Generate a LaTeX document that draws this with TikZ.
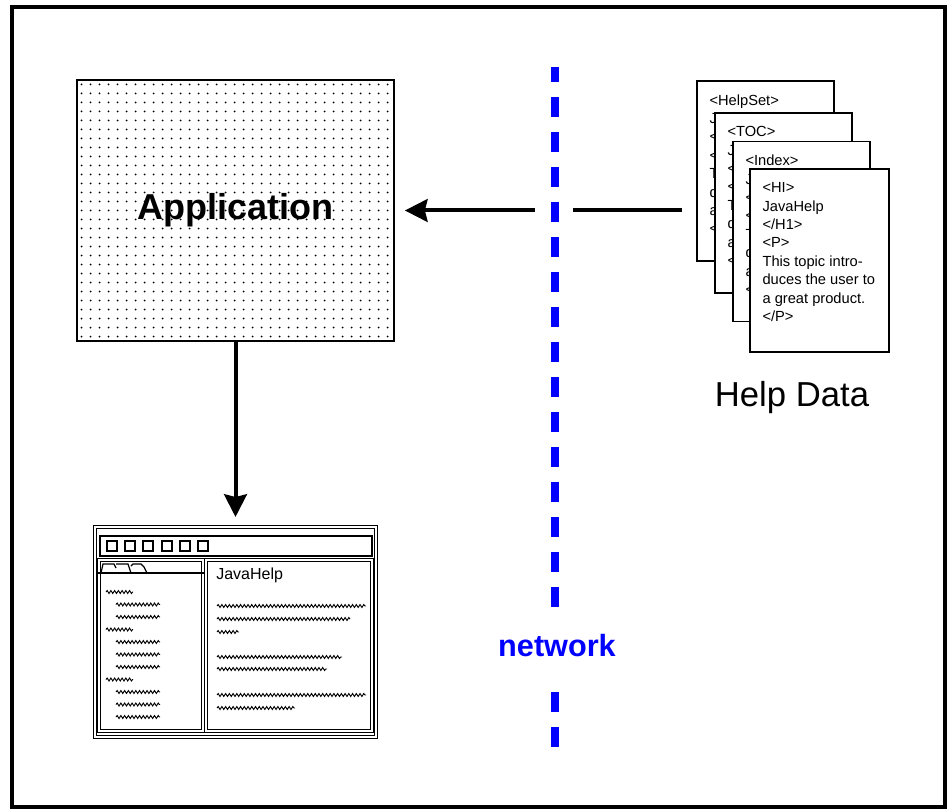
\documentclass[tikz,border=0pt]{standalone}
\usepackage{fontspec}
\setmainfont{Liberation Sans}
\usetikzlibrary{arrows.meta,decorations.pathmorphing}
\definecolor{netblue}{RGB}{0,0,255}
\begin{document}
\begin{tikzpicture}[x=0.75pt,y=-0.75pt,
  arr/.style={line width=3pt,-{Stealth[length=17pt,width=17pt,inset=2pt]}},
  appbox/.style={draw,line width=1.3pt,minimum width=237.75pt,minimum height=195.75pt,inner sep=0pt,
    font=\fontsize{27}{32}\selectfont\bfseries},
  page/.style={draw,fill=white,line width=1.1pt,minimum width=102.75pt,minimum height=135pt,inner sep=0pt},
  pagetext/.style={anchor=north west,align=left,inner sep=0pt,font=\fontsize{11}{13.8}\selectfont},
  pane/.style={draw,double,double distance=1pt,line width=0.8pt,inner sep=0pt},
  sq/.style={draw,line width=1.3pt,minimum size=7.5pt,inner sep=0pt},
  wav/.style={line width=0.7pt,decorate,decoration={snake,amplitude=1.1pt,segment length=2.8pt}},
  netdash/.style={fill=netblue},
]
\useasboundingbox (0,0) rectangle (948,809);
\fill[white] (0,0) rectangle (948,809);
\draw[line width=3pt] (12,7) rectangle (945,807);

% Application (dotted fill drawn first, then the box with its text)
\foreach \i in {0,...,34}{\foreach \j in {0,...,28}{\fill (81.5+9*\i,84.5+9*\j) circle (0.75pt);}}
\node[appbox] (app) at (235.5,210.5) {Application};

% Help data pages
\node[page] (p1) at (765.5,171) {};
\node[pagetext] (t1) at ([xshift=9.75pt,yshift=-10.5pt]p1.north west) {<HelpSet>\\J\\<\\<\\T\\d\\a\\<};
\node[page] (p2) at (783.5,203) {};
\node[pagetext] (t2) at ([xshift=9.75pt,yshift=-10.5pt]p2.north west) {<TOC>\\J\\<\\<\\T\\d\\a\\<};
\node[page] (p3) at (801.5,231.5) {};
\node[pagetext] (t3) at ([xshift=9.75pt,yshift=-10.5pt]p3.north west) {<Index>\\J\\<\\<\\T\\d\\a\\<};
\node[page,minimum width=104.25pt,minimum height=137.25pt] (p4) at (819.5,260.5) {};
\node[pagetext] (t4) at ([xshift=9.75pt,yshift=-10.5pt]p4.north west) {<HI>\\JavaHelp\\</H1>\\<P>\\This topic intro-\\duces the user to\\a great product.\\</P>};
\node[font=\fontsize{26}{30}\selectfont] (hd) at (792,398) {Help Data};

% arrows
\draw[arr,shorten <=10.5pt,shorten >=7.5pt] (app.east -| p1.west) -- (app.east);
\fill[white] (535,200) rectangle (573,220);

% window
\node[pane,line width=1pt,minimum width=210.75pt,minimum height=157.5pt] (win) at (235.5,632) {};
\draw[arr,shorten >=7pt] (app.south) -- (win.north);
\node[draw,line width=1.3pt,minimum width=204pt,minimum height=15pt,inner sep=0pt] (tbar) at (236,546) {};
\foreach \k/\xx in {1/112,2/130,3/148,4/167,5/185,6/203}
  \node[sq] (sq\k) at (\xx,546) {};
\node[pane,minimum width=78pt,minimum height=128.25pt] (lpane) at (151,645.5) {};
\node[pane,minimum width=124.5pt,minimum height=128.25pt] (rpane) at (289,645.5) {};
\draw[line width=1.2pt] (lpane.west |- 0,573) -- (lpane.east |- 0,573);
\draw[line width=0.9pt] (101,573) -- (103,564) -- (114,564) -- (116,568)
  (116,564) -- (128,564) -- (131,573)
  (131,566) -- (133,564) -- (141,564) -- (144,567) -- (147,573);
\node[anchor=west,inner sep=0pt,font=\fontsize{12}{14}\selectfont] (jh) at (216,575) {JavaHelp};
% left pane wavy lines
\foreach \yy/\xa/\xb in {592/106/133,604.5/116/160,617/116/160,629.5/106/133,642/116/160,654.5/116/160,667/116/160,679.5/106/133,692/116/160,704.5/116/160,717/116/160}
  \draw[wav] (\xa,\yy) -- (\xb,\yy);
% right pane wavy lines
\foreach \yy/\xb in {606/366,619/350,632/239,657/342,669/327,695/366,708/295}
  \draw[wav] (217,\yy) -- (\xb,\yy);

% network line
\fill[netdash] (551,67) rectangle (559,82);
\foreach \k in {0,1,2,3,4,5,6,7,8,9,10,11,12,13,14,17,18}
  \fill[netdash] (551,97+35*\k) rectangle (559,117+35*\k);
\node[text=netblue,font=\fontsize{23}{28}\selectfont\bfseries] (net) at (557,646) {network};
\end{tikzpicture}
\end{document}
